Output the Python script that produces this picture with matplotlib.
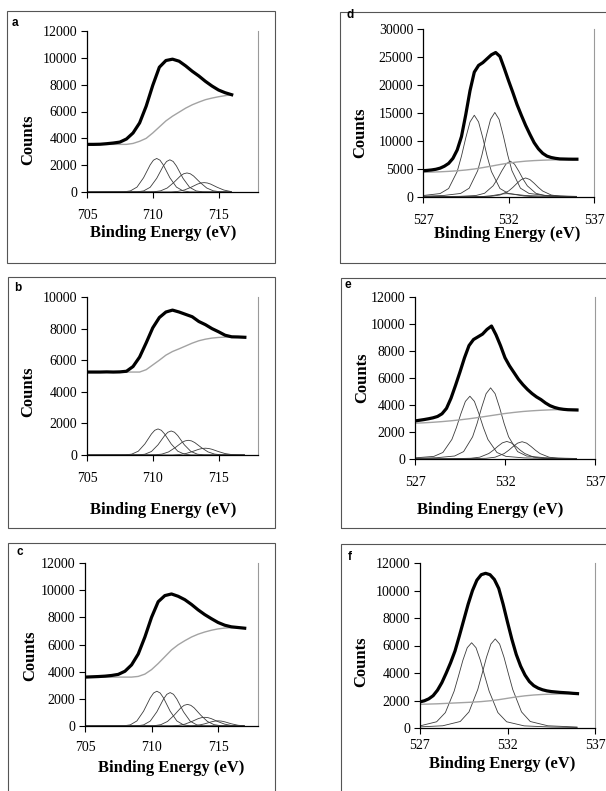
import numpy as np
import matplotlib
matplotlib.use("Agg")
import matplotlib.pyplot as plt
from matplotlib.patches import Rectangle

plt.rcParams['font.family'] = 'serif'
plt.rcParams['font.serif'] = ['Liberation Serif', 'DejaVu Serif']

W, H = 606, 791

# ---------------- Fe 2p panels (a, b, c) ----------------
A_X = np.arange(705.0, 716.01, 0.5)
A_DATA = [3550, 3550, 3560, 3600, 3650, 3720, 3950, 4400, 5150, 6400, 7950, 9300,
          9800, 9900, 9750, 9400, 9000, 8650, 8250, 7900, 7600, 7400, 7250]
A_BG = [3550, 3550, 3550, 3550, 3550, 3550, 3550, 3620, 3780, 4000, 4400, 4850,
        5300, 5650, 5950, 6250, 6500, 6700, 6880, 7000, 7100, 7180, 7250]
A_COMP_X = [
    [705.0, 707.8, 708.3, 708.8, 709.3, 709.8, 710.05, 710.3, 710.55, 710.8, 711.3, 711.8, 712.3, 712.8, 716.0],
    [705.0, 708.8, 709.3, 709.8, 710.3, 710.8, 711.05, 711.3, 711.55, 711.8, 712.3, 712.8, 713.3, 713.8, 716.0],
    [705.0, 710.1, 710.6, 711.1, 711.6, 712.1, 712.35, 712.6, 712.85, 713.1, 713.6, 714.1, 714.6, 715.1, 716.0],
    [705.0, 711.4, 711.9, 712.4, 712.9, 713.4, 713.65, 713.9, 714.15, 714.4, 714.9, 715.4, 715.9, 716.0],
]
A_COMP_Y = [
    [0, 12, 83, 365, 1063, 2018, 2370, 2500, 2370, 2018, 1063, 365, 83, 12, 0],
    [0, 12, 79, 350, 1020, 1937, 2275, 2400, 2275, 1937, 1020, 350, 79, 12, 0],
    [0, 18, 88, 298, 710, 1194, 1360, 1420, 1360, 1194, 710, 298, 88, 18, 0],
    [0, 9, 43, 147, 350, 589, 671, 700, 671, 589, 350, 147, 43, 30],
]

B_X = np.arange(705.0, 717.01, 0.5)
B_DATA = [5250, 5250, 5250, 5260, 5250, 5260, 5300, 5600, 6200, 7100, 8050, 8700, 9050,
          9170, 9050, 8900, 8750, 8450, 8250, 8000, 7800, 7580, 7480, 7470, 7450]
B_BG = [5250, 5250, 5250, 5250, 5250, 5250, 5250, 5250, 5250, 5400, 5700, 6000, 6320,
        6550, 6720, 6900, 7080, 7230, 7330, 7400, 7440, 7460, 7470, 7470, 7450]
B_COMP_X = [
    [705.0, 707.9, 708.4, 708.9, 709.4, 709.9, 710.15, 710.4, 710.65, 710.9, 711.4, 711.9, 712.4, 712.9, 717.0],
    [705.0, 708.9, 709.4, 709.9, 710.4, 710.9, 711.15, 711.4, 711.65, 711.9, 712.4, 712.9, 713.4, 713.9, 717.0],
    [705.0, 710.2, 710.7, 711.2, 711.7, 712.2, 712.45, 712.7, 712.95, 713.2, 713.7, 714.2, 714.7, 715.2, 717.0],
    [705.0, 711.5, 712.0, 712.5, 713.0, 713.5, 713.75, 714.0, 714.25, 714.5, 715.0, 715.5, 716.0, 716.5, 717.0],
]
B_COMP_Y = [
    [0, 8, 54, 241, 701, 1332, 1564, 1650, 1564, 1332, 701, 241, 54, 8, 0],
    [0, 8, 50, 222, 646, 1227, 1441, 1520, 1441, 1227, 646, 222, 50, 8, 0],
    [0, 12, 58, 195, 465, 782, 891, 930, 891, 782, 465, 195, 58, 12, 0],
    [0, 6, 27, 90, 215, 362, 412, 430, 412, 362, 215, 90, 27, 6, 0],
]

C_X = np.arange(705.0, 717.01, 0.5)
C_DATA = [3600, 3620, 3640, 3670, 3720, 3800, 4030, 4500, 5300, 6550, 8000, 9150, 9600,
          9720, 9550, 9300, 8950, 8550, 8200, 7900, 7620, 7420, 7300, 7250, 7200]
C_BG = [3600, 3600, 3600, 3600, 3600, 3600, 3600, 3600, 3650, 3820, 4150, 4600, 5100,
        5600, 5980, 6280, 6550, 6760, 6920, 7050, 7150, 7210, 7240, 7230, 7200]
C_COMP_X = [
    [705.0, 707.9, 708.4, 708.9, 709.4, 709.9, 710.15, 710.4, 710.65, 710.9, 711.4, 711.9, 712.4, 712.9, 717.0],
    [705.0, 708.9, 709.4, 709.9, 710.4, 710.9, 711.15, 711.4, 711.65, 711.9, 712.4, 712.9, 713.4, 713.9, 717.0],
    [705.0, 710.2, 710.7, 711.2, 711.7, 712.2, 712.45, 712.7, 712.95, 713.2, 713.7, 714.2, 714.7, 715.2, 717.0],
    [705.0, 711.5, 712.0, 712.5, 713.0, 713.5, 713.75, 714.0, 714.25, 714.5, 715.0, 715.5, 716.0, 716.5, 717.0],
    [705.0, 712.5, 713.0, 713.5, 714.0, 714.5, 714.75, 715.0, 715.25, 715.5, 716.0, 716.5, 717.0],
]
C_COMP_Y = [
    [0, 13, 84, 374, 1088, 2066, 2427, 2560, 2427, 2066, 1088, 374, 84, 13, 0],
    [0, 12, 81, 359, 1046, 1985, 2332, 2460, 2332, 1985, 1046, 359, 81, 12, 0],
    [0, 21, 99, 334, 795, 1337, 1523, 1590, 1523, 1337, 795, 334, 99, 21, 0],
    [0, 8, 40, 134, 320, 538, 613, 640, 613, 538, 320, 134, 40, 8, 0],
    [0, 2, 13, 55, 162, 307, 360, 380, 360, 307, 162, 55, 13],
]

# ---------------- O 1s panels (d, e, f) ----------------
O_X = np.arange(527.0, 536.01, 0.25)
O_BG_X = np.arange(527.0, 536.01, 0.5)

D_DATA = [4700, 4750, 4830, 4950, 5150, 5500, 6000, 6900, 8400, 10800, 14700, 19000, 22300,
          23500, 24000, 24700, 25400, 25800, 25100, 23000, 20800, 18700, 16500, 14600, 12800,
          11200, 9700, 8600, 7800, 7300, 7050, 6900, 6800, 6780, 6760, 6750, 6750]
D_BG = [4400, 4450, 4500, 4580, 4680, 4820, 5000, 5250, 5520, 5800, 6050, 6250, 6400,
        6500, 6570, 6620, 6660, 6690, 6700]
D_COMP_X = [
    [527.0, 528.0, 528.5, 529.0, 529.25, 529.5, 529.75, 530.0, 530.25, 530.5, 530.75, 531.0, 531.5, 532.0, 533.0, 534.5, 536.0],
    [527.0, 528.2, 529.2, 529.7, 530.2, 530.45, 530.7, 530.95, 531.2, 531.45, 531.7, 531.95, 532.2, 532.7, 533.2, 534.2, 536.0],
    [527.0, 529.1, 530.1, 530.6, 531.1, 531.35, 531.6, 531.85, 532.1, 532.35, 532.6, 532.85, 533.1, 533.6, 534.1, 535.1, 536.0],
    [527.0, 530.0, 531.0, 531.5, 532.0, 532.25, 532.5, 532.75, 533.0, 533.25, 533.5, 533.75, 534.0, 534.5, 535.0, 536.0],
    [527.0, 528.9, 529.9, 530.4, 530.9, 531.15, 531.4, 531.65, 531.9, 532.15, 532.4, 532.65, 532.9, 533.4, 533.9, 534.9, 536.0],
]
D_COMP_Y = [
    [263, 613, 1518, 4555, 7300, 10541, 13403, 14600, 13403, 10541, 7300, 4555, 1518, 613, 263, 118, 67],
    [140, 272, 634, 1570, 4711, 7550, 10902, 13862, 15100, 13862, 10902, 7550, 4711, 1570, 634, 272, 108],
    [41, 115, 269, 666, 1997, 3200, 4621, 5875, 6400, 5875, 4621, 3200, 1997, 666, 269, 115, 68],
    [16, 61, 143, 354, 1061, 1700, 2455, 3121, 3400, 3121, 2455, 1700, 1061, 354, 143, 61],
    [0, 11, 25, 62, 187, 300, 433, 551, 600, 551, 433, 300, 187, 62, 25, 11, 0],
]

E_DATA = [2820, 2870, 2920, 2980, 3050, 3150, 3350, 3750, 4500, 5450, 6450, 7500, 8400,
          8850, 9050, 9250, 9600, 9850, 9200, 8400, 7500, 6900, 6400, 5900, 5500, 5150,
          4850, 4600, 4400, 4150, 3950, 3820, 3730, 3680, 3650, 3640, 3630]
E_BG = [2650, 2680, 2720, 2770, 2830, 2900, 2980, 3070, 3170, 3270, 3370, 3450, 3520,
        3570, 3610, 3640, 3660, 3670, 3680]
E_COMP_X = [
    [527.0, 528.05, 528.55, 529.05, 529.3, 529.55, 529.8, 530.05, 530.3, 530.55, 530.8, 531.05, 531.55, 532.05, 533.05, 534.5, 536.0],
    [527.0, 528.2, 529.2, 529.7, 530.2, 530.45, 530.7, 530.95, 531.2, 531.45, 531.7, 531.95, 532.2, 532.7, 533.2, 534.2, 536.0],
    [527.0, 529.1, 530.1, 530.6, 531.1, 531.35, 531.6, 531.85, 532.1, 532.35, 532.6, 532.85, 533.1, 533.6, 534.1, 535.1, 536.0],
    [527.0, 529.95, 530.95, 531.45, 531.95, 532.2, 532.45, 532.7, 532.95, 533.2, 533.45, 533.7, 533.95, 534.45, 534.95, 535.95],
]
E_COMP_Y = [
    [84, 195, 484, 1451, 2325, 3357, 4269, 4650, 4269, 3357, 2325, 1451, 484, 195, 84, 39, 21],
    [49, 95, 221, 548, 1644, 2635, 3805, 4838, 5270, 4838, 3805, 2635, 1644, 548, 221, 95, 37],
    [8, 23, 55, 135, 406, 650, 939, 1193, 1300, 1193, 939, 650, 406, 135, 55, 23, 14],
    [6, 23, 54, 133, 399, 640, 924, 1175, 1280, 1175, 924, 640, 399, 133, 54, 23],
]

F_DATA = [1900, 1980, 2120, 2350, 2750, 3300, 4000, 4750, 5600, 6700, 7850, 9000, 10000,
          10750, 11150, 11250, 11150, 10800, 10150, 9000, 7700, 6450, 5350, 4500, 3850,
          3380, 3080, 2900, 2780, 2700, 2650, 2620, 2590, 2570, 2550, 2520, 2500]
F_BG = [1720, 1740, 1760, 1790, 1820, 1850, 1880, 1920, 1980, 2060, 2160, 2260, 2340,
        2400, 2440, 2460, 2480, 2490, 2500]
F_COMP_X = [
    [527.0, 527.95, 528.45, 528.95, 529.2, 529.45, 529.7, 529.95, 530.2, 530.45, 530.7, 530.95, 531.45, 531.95, 532.95, 534.5, 536.0],
    [527.0, 528.3, 529.3, 529.8, 530.3, 530.55, 530.8, 531.05, 531.3, 531.55, 531.8, 532.05, 532.3, 532.8, 533.3, 534.3, 536.0],
]
F_COMP_Y = [
    [155, 453, 1122, 2678, 3782, 4923, 5840, 6200, 5840, 4923, 3782, 2678, 1122, 453, 155, 70, 40],
    [82, 162, 473, 1173, 2799, 3953, 5145, 6104, 6480, 6104, 5145, 3953, 2799, 1173, 473, 162, 69],
]

FE_XTICKS = [705, 710, 715]
O_XTICKS = [527, 532, 537]


def fig_xy(x, y):
    return x / W, 1 - y / H


def draw_panel(fig, p):
    l, t, r, b = p['box']
    ax = fig.add_axes([l / W, 1 - b / H, (r - l) / W, (b - t) / H])
    for cx, cy in zip(p['comp_x'], p['comp_y']):
        ax.plot(cx, cy, color='#3c3c3c', lw=0.6, solid_capstyle='butt')
    ax.plot(p['bg_x'], p['bg'], color='#a3a3a3', lw=1.0)
    ax.plot(p['x'], p['data'], color='black', lw=2.3, solid_joinstyle='round')

    ax.set_xlim(*p['xlim'])
    ax.set_ylim(*p['ylim'])
    ax.set_xticks(p['xticks'])
    ax.set_yticks(p['yticks'])
    ax.tick_params(axis='y', direction='out', length=4, width=0.8, pad=3, labelsize=10)
    ax.tick_params(axis='x', direction='out', length=4, width=0.8, pad=p.get('xpad', 8),
                   labelsize=10)
    ax.spines['top'].set_visible(False)
    ax.spines['right'].set_color('#9a9a9a')
    ax.spines['right'].set_linewidth(0.8)
    ax.spines['left'].set_linewidth(0.9)
    ax.spines['bottom'].set_linewidth(0.9)

    fl, ft, fr, fb = p['frame']
    fig.patches.append(Rectangle(fig_xy(fl, fb), (fr - fl) / W, (fb - ft) / H,
                                 transform=fig.transFigure, fill=False,
                                 edgecolor='#555555', lw=0.8))
    fig.text(*fig_xy(*p['letter_xy']), p['letter'], fontsize=8.5, fontweight='bold',
             family='Liberation Sans', ha='center', va='center')
    fig.text(*fig_xy(*p['ylabel_xy']), 'Counts', fontsize=12, fontweight='bold',
             rotation=90, ha='center', va='center')
    fig.text(*fig_xy(*p['xlabel_xy']), 'Binding Energy (eV)', fontsize=12,
             fontweight='bold', ha='center', va='center')
    return ax


panels = [
    dict(box=(87, 31, 258, 192), frame=(7, 11, 275, 263), letter='a', letter_xy=(15, 23),
         x=A_X, data=A_DATA, bg_x=A_X, bg=A_BG, comp_x=A_COMP_X, comp_y=A_COMP_Y,
         xlim=(705, 718), xticks=FE_XTICKS, ylim=(0, 12000), yticks=range(0, 12001, 2000),
         ylabel_xy=(28, 140), xlabel_xy=(163, 233)),
    dict(box=(87, 297, 258, 455), frame=(8, 277, 275, 528), letter='b', letter_xy=(18, 288),
         x=B_X, data=B_DATA, bg_x=B_X, bg=B_BG, comp_x=B_COMP_X, comp_y=B_COMP_Y,
         xlim=(705, 718), xticks=FE_XTICKS, ylim=(0, 10000), yticks=range(0, 10001, 2000),
         ylabel_xy=(28, 392), xlabel_xy=(163, 510)),
    dict(box=(85, 563, 258, 726), frame=(8, 543, 275, 800), letter='c', letter_xy=(20, 552),
         x=C_X, data=C_DATA, bg_x=C_X, bg=C_BG, comp_x=C_COMP_X, comp_y=C_COMP_Y,
         xlim=(705, 718), xticks=FE_XTICKS, ylim=(0, 12000), yticks=range(0, 12001, 2000),
         ylabel_xy=(30, 656), xlabel_xy=(171, 768), xpad=7),
    dict(box=(423, 29, 594, 197), frame=(340, 12, 620, 263), letter='d', letter_xy=(350, 15),
         x=O_X, data=D_DATA, bg_x=O_BG_X, bg=D_BG, comp_x=D_COMP_X, comp_y=D_COMP_Y,
         xlim=(527, 537), xticks=O_XTICKS, ylim=(0, 30000), yticks=range(0, 30001, 5000),
         ylabel_xy=(360, 133), xlabel_xy=(507, 234)),
    dict(box=(415, 297, 595, 459), frame=(341, 278, 620, 528), letter='e', letter_xy=(348, 285),
         x=O_X, data=E_DATA, bg_x=O_BG_X, bg=E_BG, comp_x=E_COMP_X, comp_y=E_COMP_Y,
         xlim=(527, 537), xticks=O_XTICKS, ylim=(0, 12000), yticks=range(0, 12001, 2000),
         ylabel_xy=(362, 378), xlabel_xy=(490, 510)),
    dict(box=(420, 563, 595, 728), frame=(341, 544, 620, 800), letter='f', letter_xy=(350, 557),
         x=O_X, data=F_DATA, bg_x=O_BG_X, bg=F_BG, comp_x=F_COMP_X, comp_y=F_COMP_Y,
         xlim=(527, 537), xticks=O_XTICKS, ylim=(0, 12000), yticks=range(0, 12001, 2000),
         ylabel_xy=(361, 662), xlabel_xy=(502, 764), xpad=4),
]

fig = plt.figure(figsize=(W / 100, H / 100), dpi=100)
fig.patch.set_facecolor('white')
for p in panels:
    draw_panel(fig, p)

fig.savefig('out.png', dpi=100, facecolor='white')
